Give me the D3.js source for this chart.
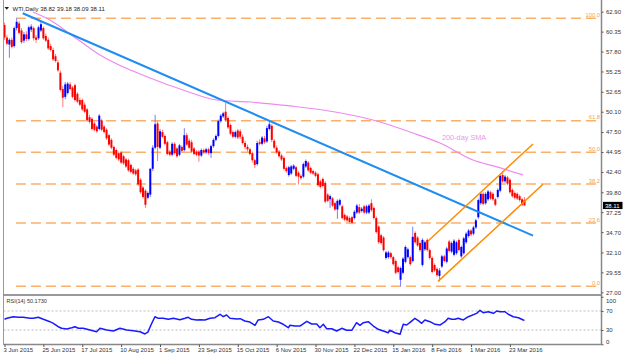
<!DOCTYPE html>
<html><head><meta charset="utf-8">
<script src="https://cdn.jsdelivr.net/npm/d3@7"></script>
<style>
html,body{margin:0;padding:0;background:#fff;}
svg{display:block;font-family:"Liberation Sans",Arial,sans-serif;}
</style></head><body>
<svg id="c" width="628" height="359"></svg>
<script>
// ---------- DATA ----------
const titleText = "WTI,Daily 38.82 39.18 38.09 38.11";
const rsiLabel = "RSI(14) 50.1730";
const smaLabel = "200-day SMA";
const lastClose = 38.11;

const dateLabels = ["3 Jun 2015","25 Jun 2015","17 Jul 2015","10 Aug 2015","1 Sep 2015","23 Sep 2015","15 Oct 2015","6 Nov 2015","30 Nov 2015","22 Dec 2015","15 Jan 2016","8 Feb 2016","1 Mar 2016","23 Mar 2016"];
const dateTickIdx = [0,16,32,48,64,80,96,112,128,144,160,176,192,208];

const priceTicks = [62.90,60.35,57.80,55.25,52.65,50.10,47.50,44.95,42.40,39.80,37.25,34.70,32.10,29.55,27.00];
const rsiTicks = [100,70,30,0];

const opens = [
61.2,59.6,58.7,59.3,58.5,60.8,61.4,60.5,59.2,60.0,
59.4,60.6,60.8,59.6,59.5,60.5,60.8,59.8,59.3,58.5,
58.0,57.2,56.4,55.1,53.0,52.0,52.5,53.6,53.2,53.5,
52.4,51.6,51.6,51.0,50.4,49.4,49.2,48.6,48.2,47.9,
49.0,48.2,47.8,47.1,46.5,45.6,45.2,44.8,44.9,44.4,
44.0,43.9,43.3,42.8,42.6,42.7,41.4,40.4,40.0,39.1,
39.5,42.8,45.5,48.6,45.5,47.5,47.0,46.2,45.0,44.6,
46.0,45.4,44.6,45.6,45.2,47.1,46.4,46.2,45.4,45.0,
45.0,44.5,45.2,44.9,45.3,44.8,45.7,46.5,47.0,48.9,
49.5,50.1,49.3,48.4,47.5,46.9,47.7,47.6,46.9,46.1,
45.6,45.3,44.8,43.9,43.4,46.2,46.0,46.7,46.3,47.9,
48.3,46.4,45.5,45.0,44.5,44.2,42.9,42.0,42.2,42.8,
43.0,42.3,41.9,41.8,43.1,43.6,42.9,42.5,42.3,42.1,
41.2,41.5,41.0,39.5,38.9,39.0,38.4,37.6,38.2,38.0,
36.9,36.7,36.5,36.6,36.5,37.2,37.9,37.4,38.0,37.2,
37.2,38.4,37.8,36.5,35.4,34.3,34.0,31.4,31.5,32.0,
31.5,31.0,30.2,28.6,29.5,30.9,31.5,31.5,31.0,34.6,
34.0,33.3,30.5,32.5,33.7,32.4,31.4,30.5,30.0,29.1,
30.3,31.6,30.9,33.5,32.2,31.8,32.0,33.7,31.6,32.0,
33.4,34.2,34.9,34.5,35.3,36.6,38.4,39.6,38.4,38.9,
39.8,39.6,38.9,39.2,40.0,42.0,41.2,41.7,41.4,40.1,
39.7,39.6,39.3,38.9,38.82];
const highs = [
61.5,59.9,59.5,59.6,61.0,62.06,61.7,60.8,60.3,60.4,
61.1,61.3,61.0,59.9,61.1,61.6,61.0,60.1,59.6,58.8,
58.3,57.5,56.7,55.4,53.4,53.9,53.9,53.9,53.4,53.7,
52.6,51.9,51.8,51.3,50.6,49.7,49.4,48.8,48.4,49.8,
49.2,48.4,48.0,47.3,46.7,45.8,45.4,45.0,45.1,44.6,
44.2,44.1,43.5,43.0,42.8,42.9,41.6,40.6,40.2,39.9,
42.9,45.8,49.7,48.9,47.9,47.8,47.2,46.4,45.2,46.2,
46.2,45.6,46.0,45.8,48.0,47.4,46.7,46.5,45.6,45.2,
45.2,45.4,45.4,45.5,45.5,45.9,46.7,47.2,49.1,49.8,
50.1,51.2,49.5,48.6,47.7,47.7,47.9,47.9,47.2,46.4,
45.9,45.5,45.0,44.1,46.4,46.6,47.0,47.0,48.3,48.9,
48.5,46.6,45.8,45.2,44.7,44.4,43.1,43.2,43.3,43.4,
43.2,42.5,42.1,43.6,44.0,43.8,43.1,42.7,42.5,42.3,
41.4,41.7,41.2,39.7,39.5,39.2,38.6,38.9,39.0,38.2,
37.1,36.9,36.7,36.8,37.5,38.3,38.3,37.9,38.2,38.2,
38.3,38.9,38.0,36.7,35.6,34.5,34.2,32.3,32.3,32.2,
31.7,31.2,30.4,30.3,31.5,33.0,32.7,31.7,35.4,34.8,
34.2,33.5,33.9,33.6,33.9,32.6,31.6,30.7,30.2,30.1,
31.8,31.8,32.8,33.7,33.5,33.8,33.6,33.9,33.0,34.1,
34.7,35.1,35.1,35.5,36.4,39.0,39.8,39.8,39.8,40.1,
40.0,39.8,39.1,40.3,42.1,42.5,42.0,41.9,41.6,40.3,
39.9,39.8,39.5,39.1,39.18];
const lows = [
59.3,58.6,57.0,58.2,58.3,60.5,60.0,58.8,58.9,59.1,
59.2,60.3,59.2,58.9,59.3,60.3,59.3,59.0,58.0,57.8,
56.6,56.4,55.2,52.7,50.7,51.7,52.3,52.8,51.8,51.4,
51.2,50.8,50.2,49.9,48.8,48.6,47.7,47.6,47.4,47.7,
47.6,47.3,46.5,45.7,45.3,44.4,44.0,43.8,43.4,43.3,
42.9,42.4,42.2,42.0,41.9,40.6,39.6,39.0,37.8,38.9,
39.2,42.5,45.3,43.8,45.3,46.7,45.8,44.5,44.4,44.4,
44.6,44.2,44.4,44.9,45.0,45.7,45.3,44.8,44.5,44.4,
43.7,44.3,44.7,44.7,44.6,44.2,45.5,46.3,46.8,48.7,
49.3,48.8,47.9,47.1,46.7,46.7,46.6,46.6,45.9,45.3,
45.0,44.5,43.6,42.9,43.2,45.8,45.8,46.0,46.1,47.7,
46.2,45.3,44.7,44.2,43.8,42.6,42.3,41.8,42.0,42.6,
41.7,40.8,41.4,41.6,42.9,42.4,42.1,42.0,41.7,40.5,
40.3,40.4,38.4,38.5,37.8,37.9,37.4,36.4,38.0,36.3,
36.1,36.0,35.8,35.7,36.3,37.0,37.0,37.2,37.0,37.0,
37.0,37.3,36.3,34.5,33.2,33.1,32.2,31.2,31.3,31.3,
30.4,29.3,29.4,27.75,29.3,30.7,31.3,30.4,30.8,33.2,
32.8,32.2,30.3,32.3,32.2,31.2,29.4,29.6,29.0,28.4,
30.1,30.8,30.7,32.1,32.0,31.6,31.8,32.2,31.4,31.8,
33.2,34.0,34.2,34.3,35.1,36.4,38.2,38.1,38.2,38.7,
38.8,38.7,38.0,39.0,39.8,41.0,41.0,40.7,39.6,39.1,
38.9,38.8,38.6,38.0,38.09];
const closes = [
59.6,58.8,59.3,58.4,60.8,61.6,60.2,59.0,60.0,59.4,
60.9,61.0,59.5,59.3,60.9,61.3,59.5,59.2,58.2,58.0,
56.8,56.6,55.4,52.9,51.9,53.6,53.7,53.0,52.0,51.6,
51.4,51.0,50.4,50.1,49.0,48.8,47.9,47.8,47.6,49.6,
47.8,47.5,46.7,45.9,45.5,44.6,44.2,44.0,43.6,43.5,
43.1,42.6,42.4,42.2,42.1,40.8,39.8,39.2,38.2,39.7,
42.8,45.5,48.5,45.6,47.6,46.9,46.0,44.7,44.6,46.0,
44.8,44.4,45.8,45.1,47.1,45.9,45.5,45.0,44.7,44.6,
44.5,45.2,44.9,45.3,44.8,45.7,46.5,47.0,48.9,49.6,
49.9,49.0,48.1,47.3,46.9,47.5,46.8,46.9,46.1,45.6,
45.3,44.7,43.9,43.3,46.1,46.0,46.8,46.2,48.0,48.5,
46.5,45.5,44.9,44.4,44.0,42.8,42.5,43.0,43.1,43.2,
41.9,41.8,41.6,43.4,43.8,42.6,42.3,42.2,41.9,40.7,
40.5,40.6,38.6,38.7,39.3,38.1,37.6,38.7,38.8,36.5,
36.3,36.2,36.0,35.9,37.3,38.1,37.2,37.7,37.2,38.0,
38.1,37.5,36.5,34.7,33.4,33.3,32.4,32.1,32.1,31.5,
30.6,29.5,29.6,30.1,31.3,32.8,32.5,30.6,34.1,33.4,
33.0,32.4,33.7,33.4,32.4,31.4,29.6,29.8,29.2,29.8,
31.6,31.0,32.6,32.3,33.3,33.6,33.4,32.4,32.8,33.9,
34.5,34.9,34.4,35.3,36.2,38.8,39.6,38.3,39.6,39.9,
39.0,38.9,38.2,40.1,41.9,41.2,41.8,40.9,39.8,39.3,
39.1,39.0,38.8,38.2,38.11];

// 200-day SMA readings (bar index, value)
const smaIdx = [11.7,18.7,29,39.3,59.9,73.5,87.4,101,117.5,131,151.6,168.1,179.2,192.8,202.7,213.4];
const smaVal = [62.86,61.84,59.6,57.36,54.42,52.88,51.6,51.35,50.84,50.32,49.04,47.38,46.10,43.93,43.04,42.01];

// RSI(14) readings (bar index, value)
const rsiIdx = [0,1,3.6,5.7,7.7,10.5,11.9,13.9,16,18.7,20.1,22.1,23.5,25.6,27.7,29,30.4,32.4,35.2,37.9,39.3,42.1,44.8,47.5,50.3,53,55.8,57.8,59,60.6,61.9,63.3,65.3,67.4,69.5,72.2,74.3,75.6,77,79.1,80.5,82.5,84.6,86.6,88.7,90,91.4,92.8,95.6,97,98.9,101,103.1,104.4,106.5,108.6,110.6,112.7,114.7,116.8,117.5,119.5,121.6,124.4,126.4,128.5,129.8,131.2,132.6,134.7,136.7,138.8,140.8,142.9,144.9,146.3,147.7,149.7,151.8,153.8,155.9,157.9,158.6,160.7,162.8,164.1,165.5,166.9,168.9,170.3,171.7,173,175.1,177.2,179.2,181.3,182.6,184,185.4,186.7,188.8,190.9,194.3,195.7,197,199.1,201.2,202.6,203.9,206,207.3,209.4,211.5,213.5,214];
const rsiVal = [52.5,54.6,58.0,56.7,56.7,54.6,54.6,56.7,52.5,47.5,44.1,36.9,33.6,32.1,34.8,36.9,33.6,33.6,30.0,26.4,33.6,30.0,27.9,33.6,30.0,28.5,26.4,21.6,25.5,44.1,58.0,54.6,54.6,52.5,54.6,51.7,54.6,56.7,52.5,51.1,51.7,51.1,54.6,55.9,63.1,58.0,61.6,54.6,53.2,53.8,48.9,46.8,39.9,51.1,52.5,58.0,48.9,46.8,42.0,34.8,39.9,38.4,38.4,48.3,42.6,42.6,34.8,42.0,32.7,32.7,27.9,33.6,29.4,29.4,45.4,39.9,45.4,47.5,38.4,31.5,27.9,24.3,29.4,24.3,20.9,42.0,40.5,46.2,54.6,49.6,44.1,51.1,47.5,42.0,40.5,47.5,54.6,52.5,52.5,54.6,51.1,58.0,65.1,71.5,66.4,68.5,65.1,70.0,68.5,68.5,63.1,58.0,55.9,51.1,50.17];

// Fibonacci retracement
const fibPct = [100.0,61.8,50.0,38.2,23.6,0.0];
const fibLow = 27.77, fibHigh = 62.06;
const fibStartIdx = 4.7;

// Trend lines (bar index, price)
const downTrendIdx = [7.5,217.5], downTrendVal = [62.70,34.25];
const chanUpIdx = [174.3,217.5], chanUpVal = [33.57,45.98];
const chanLoIdx = [178.4,221.6], chanLoVal = [28.40,40.82];

// ---------- DRAW ----------
const svg = d3.select('#c');
const L = 3.5, R = 601.5, mainBottom = 295, rsiTop = 296, rsiBottom = 344.5;
const x = d3.scaleLinear().domain([0,214]).range([4.5,524.5]);
const y = d3.scaleLinear().domain([27.00,62.90]).range([292.3,11.7]);
const yr = d3.scaleLinear().domain([0,100]).range([344.25,296.75]);

svg.append('rect').attr('width',628).attr('height',359).attr('fill','#fff');

svg.append('defs').append('clipPath').attr('id','mainClip')
  .append('rect').attr('x',L).attr('y',0).attr('width',R-L).attr('height',mainBottom);

const main = svg.append('g').attr('clip-path','url(#mainClip)');

// fib lines
const fibColor = '#fbb06a';
fibPct.forEach(p => {
  const v = fibLow + (fibHigh-fibLow)*p/100;
  const yy = y(v);
  main.append('line').attr('x1',x(fibStartIdx)).attr('x2',R).attr('y1',yy).attr('y2',yy)
    .attr('stroke',fibColor).attr('stroke-width',1.5).attr('stroke-dasharray','10,5');
  svg.append('text').attr('x',600).attr('y',yy-1.2).attr('text-anchor','end')
    .attr('font-size',5.8).attr('fill','#f9a24a').text(p.toFixed(1));
});

// SMA
const smaPts = smaIdx.map((d,i)=>[x(d),y(smaVal[i])]);
main.append('path').attr('d',d3.line().curve(d3.curveMonotoneX)(smaPts))
  .attr('fill','none').attr('stroke','#ee8aee').attr('stroke-width',1.2);
svg.append('text').attr('x',442).attr('y',139.5).attr('font-size',7.3)
  .attr('fill','#e89ae8').text(smaLabel);

// candles
const cg = main.append('g');
closes.forEach((c,i)=>{
  const o = opens[i], h = highs[i], l = lows[i];
  const up = c >= o;
  const cx = x(i);
  cg.append('line').attr('x1',cx).attr('x2',cx).attr('y1',y(h)).attr('y2',y(l))
    .attr('stroke', up ? '#7b7bff' : '#ff7b7b').attr('stroke-width',1);
  const top = y(Math.max(o,c)), bot = y(Math.min(o,c));
  cg.append('rect').attr('x',cx-1).attr('width',2).attr('y',top)
    .attr('height',Math.max(1,bot-top)).attr('fill', up ? '#0000ff' : '#ff0000');
});

// trend lines
const seg = (xi, yv) => d3.line()(xi.map((d,i)=>[x(d),y(yv[i])]));
main.append('path').attr('d',seg(downTrendIdx,downTrendVal)).attr('stroke','#1e8cf0')
  .attr('stroke-width',2).attr('fill','none');
main.append('path').attr('d',seg(chanUpIdx,chanUpVal)).attr('stroke','#ff8c00')
  .attr('stroke-width',1.5).attr('fill','none');
main.append('path').attr('d',seg(chanLoIdx,chanLoVal)).attr('stroke','#ff8c00')
  .attr('stroke-width',1.5).attr('fill','none');

// RSI panel
[70,30].forEach(v=>{
  svg.append('line').attr('x1',L).attr('x2',R).attr('y1',yr(v)).attr('y2',yr(v))
    .attr('stroke','#bdbdbd').attr('stroke-width',1).attr('stroke-dasharray','2,2');
});
const rsiPts = rsiIdx.map((d,i)=>[x(d),yr(rsiVal[i])]);
svg.append('path').attr('d',d3.line()(rsiPts)).attr('fill','none')
  .attr('stroke','#1a1aff').attr('stroke-width',1.5).attr('stroke-linejoin','round');
svg.append('text').attr('x',6.5).attr('y',302.5).attr('font-size',5.5).attr('fill','#333').text(rsiLabel);

// frame lines
svg.append('line').attr('x1',L).attr('x2',L).attr('y1',0).attr('y2',rsiBottom).attr('stroke','#999').attr('stroke-width',1);
svg.append('line').attr('x1',L).attr('x2',R).attr('y1',mainBottom).attr('y2',mainBottom).attr('stroke','#777').attr('stroke-width',1.5);
svg.append('line').attr('x1',L).attr('x2',R).attr('y1',rsiBottom).attr('y2',rsiBottom).attr('stroke','#888').attr('stroke-width',1.5);
svg.append('line').attr('x1',R).attr('x2',R).attr('y1',0).attr('y2',rsiBottom).attr('stroke','#888').attr('stroke-width',1.5);

// price axis
const ay = svg.append('g').attr('transform',`translate(${R},0)`)
  .call(d3.axisRight(y).tickValues(priceTicks).tickSize(2).tickPadding(2.5).tickFormat(d3.format('.2f')));
ay.select('.domain').remove();
ay.selectAll('line').attr('stroke','#555');
ay.selectAll('text').attr('font-size',6).attr('fill','#333').attr('font-family','"Liberation Sans",Arial,sans-serif');

// RSI axis
const ar = svg.append('g').attr('transform',`translate(${R},0)`)
  .call(d3.axisRight(yr).tickValues(rsiTicks).tickSize(2).tickPadding(2.5).tickFormat(d3.format('d')));
ar.select('.domain').remove();
ar.selectAll('line').attr('stroke','#555');
ar.selectAll('text').attr('font-size',6).attr('fill','#333').attr('font-family','"Liberation Sans",Arial,sans-serif')
  .attr('dy', d => d===100 ? '0.9em' : (d===0 ? '-0.1em' : '0.32em'));

// last price box
const ly = y(lastClose);
svg.append('rect').attr('x',603).attr('y',ly-3.6).attr('width',19.5).attr('height',7.2).attr('fill','#000');
svg.append('text').attr('x',605).attr('y',ly+2.1).attr('font-size',6).attr('fill','#fff').text(lastClose.toFixed(2));

// date axis
const ax = svg.append('g').attr('transform',`translate(0,${rsiBottom})`)
  .call(d3.axisBottom(x).tickValues(dateTickIdx).tickSize(2.5).tickFormat((d,i)=>dateLabels[i]));
ax.select('.domain').remove();
ax.selectAll('line').attr('stroke','#555');
ax.selectAll('text').attr('font-size',6).attr('fill','#333').attr('font-family','"Liberation Sans",Arial,sans-serif')
  .attr('text-anchor','start').attr('y',7.8).attr('dy',0).attr('dx',-1.5);

// title
svg.append('path').attr('d','M4.5,7 L9,7 L6.75,9.8 Z').attr('fill','#222');
svg.append('text').attr('x',12.5).attr('y',10.6).attr('font-size',6).attr('fill','#222').text(titleText);
</script>
</body></html>
